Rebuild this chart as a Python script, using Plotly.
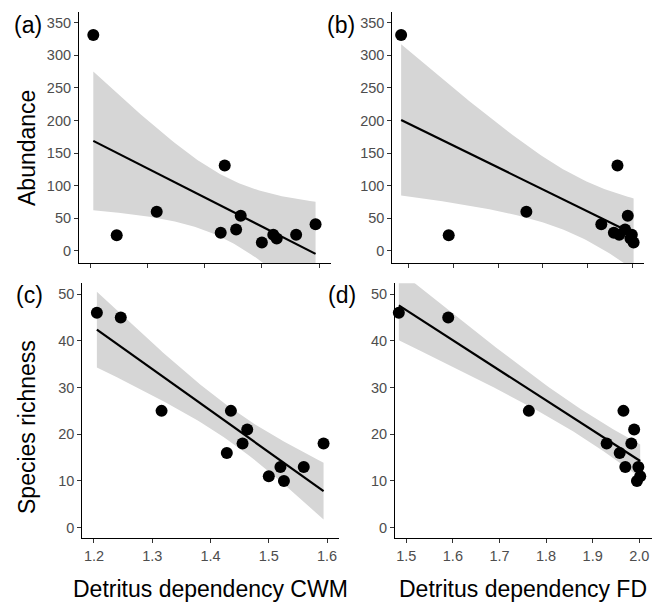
import numpy as np
import plotly.graph_objects as go

# ---- data ----
cwm = [1.205, 1.246, 1.316, 1.435, 1.428, 1.455, 1.463, 1.500, 1.520, 1.526, 1.560, 1.594]
fd = [1.484, 1.590, 1.763, 1.966, 1.958, 1.983, 1.989, 2.002, 1.970, 1.995, 1.998, 1.930]
abundance = [331, 24, 60, 131, 28, 33, 54, 13, 25, 19, 25, 41]
richness = [46, 45, 25, 25, 16, 18, 21, 11, 13, 10, 13, 18]

cwm_ticks = [1.2, 1.3, 1.4, 1.5, 1.6]
fd_ticks = [1.5, 1.6, 1.7, 1.8, 1.9, 2.0]
ab_ticks = [0, 50, 100, 150, 200, 250, 300, 350]
sr_ticks = [0, 10, 20, 30, 40, 50]

T_CRIT = 2.228  # t(0.975, df=10)

W, H = 652, 602


def fit(x, y):
    x = np.asarray(x, float)
    y = np.asarray(y, float)
    n = len(x)
    b1, b0 = np.polyfit(x, y, 1)
    res = y - (b0 + b1 * x)
    s = np.sqrt(np.sum(res ** 2) / (n - 2))
    xbar = x.mean()
    sxx = np.sum((x - xbar) ** 2)
    xs = np.linspace(x.min(), x.max(), 80)
    yh = b0 + b1 * xs
    se = s * np.sqrt(1.0 / n + (xs - xbar) ** 2 / sxx)
    return xs, yh, yh - T_CRIT * se, yh + T_CRIT * se


fig = go.Figure()

panels = [
    ("x", "y", cwm, abundance),
    ("x2", "y2", fd, abundance),
    ("x3", "y3", cwm, richness),
    ("x4", "y4", fd, richness),
]

for xa, ya, xv, yv in panels:
    xs, yh, lo, hi = fit(xv, yv)
    fig.add_trace(go.Scatter(
        x=list(xs) + list(xs[::-1]), y=list(hi) + list(lo[::-1]),
        fill="toself", fillcolor="rgb(214,214,214)", line=dict(width=0),
        mode="lines", hoverinfo="skip", showlegend=False, xaxis=xa, yaxis=ya))
    fig.add_trace(go.Scatter(
        x=xs, y=yh, mode="lines", line=dict(color="black", width=2.2),
        showlegend=False, xaxis=xa, yaxis=ya))
    fig.add_trace(go.Scatter(
        x=xv, y=yv, mode="markers", marker=dict(color="black", size=12),
        cliponaxis=False, showlegend=False, xaxis=xa, yaxis=ya))


def px_x(a, b):
    return [a / W, min(b / W, 1.0)]


def px_y(top, bottom):
    return [1 - bottom / H, 1 - top / H]


tickfont = dict(family="Liberation Sans, Arial, sans-serif", size=14.5, color="#4D4D4D")
common = dict(showline=True, linecolor="black", linewidth=1.1, ticks="outside",
              ticklen=4, tickcolor="#333333", tickwidth=1.1, showgrid=False,
              zeroline=False, tickfont=tickfont, mirror=False)

fig.update_layout(
    width=W, height=H, margin=dict(l=0, r=0, t=0, b=0),
    paper_bgcolor="white", plot_bgcolor="white",
    xaxis=dict(domain=px_x(79, 331), range=[1.18, 1.621], anchor="y",
               tickvals=cwm_ticks, showticklabels=False, **common),
    yaxis=dict(domain=px_y(11.7, 263.3), range=[-18.9, 366.9], anchor="x",
               tickvals=ab_ticks, **common),
    xaxis2=dict(domain=px_x(392.3, 644.3), range=[1.4643, 2.0258], anchor="y2",
                tickvals=fd_ticks, showticklabels=False, **common),
    yaxis2=dict(domain=px_y(11.7, 263.3), range=[-18.9, 366.9], anchor="x2",
                tickvals=ab_ticks, **common),
    xaxis3=dict(domain=px_x(82.3, 339.3), range=[1.18, 1.621], anchor="y3",
                tickvals=cwm_ticks, tickformat=".1f", **common),
    yaxis3=dict(domain=px_y(283.3, 538.3), range=[-2.27, 52.3], anchor="x3",
                tickvals=sr_ticks, **common),
    xaxis4=dict(domain=px_x(395, 652), range=[1.4758, 2.0273], anchor="y4",
                tickvals=fd_ticks, tickformat=".1f", **common),
    yaxis4=dict(domain=px_y(283.3, 538.3), range=[-2.27, 52.3], anchor="x4",
                tickvals=sr_ticks, **common),
)

tfont = dict(family="Liberation Sans, Arial, sans-serif", size=23, color="black")
annots = [
    ("Abundance", 27, 148, 270),
    ("Species richness", 27, 427, 270),
    ("Detritus dependency CWM", 210.8, 589, 0),
    ("Detritus dependency FD", 523, 589, 0),
    ("(a)", 27.5, 25, 0),
    ("(b)", 341, 25, 0),
    ("(c)", 29, 295, 0),
    ("(d)", 341.7, 295, 0),
]
for txt, x, y, ang in annots:
    fig.add_annotation(text=txt, x=x / W, y=1 - y / H, xref="paper", yref="paper",
                       xanchor="center", yanchor="middle", showarrow=False,
                       textangle=ang if ang else 0, font=tfont)

fig.write_html(
    "out.html",
    config={"displayModeBar": False},
    post_script="document.body.style.margin='0px';document.body.style.overflow='hidden';",
)
